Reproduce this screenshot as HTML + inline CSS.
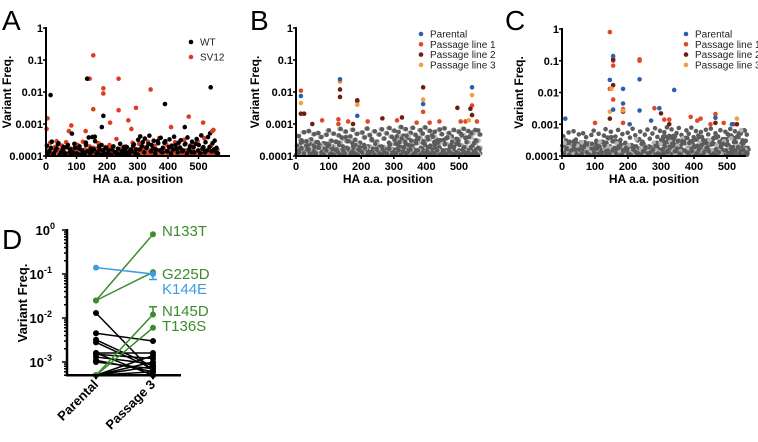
<!DOCTYPE html>
<html><head><meta charset="utf-8"><style>
body{margin:0;background:#fff;}
svg{display:block;font-family:"Liberation Sans",Arial,sans-serif;}
</style></head><body>
<svg id="fig" width="758" height="442" viewBox="0 0 758 442"></svg>
<script>
// ---------- data ----------
const yTicksLog = ["1","0.1","0.01","0.001","0.0001"];
const xTicksPos = [0,100,200,300,400,500];
const bgPos = [3,11,19,26,34,41,50,57,63,72,80,88,95,103,110,118,126,131,140,147,152,161,169,176,182,191,198,205,213,221,228,236,243,250,258,265,273,281,288,296,302,309,317,324,331,339,346,353,361,368,376,383,391,398,405,412,420,427,435,442,450,457,464,472,479,486,494,501,509,516,523,531,538,546,553,559];
// background frequencies in units of 1e-4
const bgV1 = [2.1,1.4,2.8,1.2,1.7,2.5,1.3,1.9,1.1,2.2,1.6,1.3,1.8,1.2,2.0,1.5,1.1,2.6,3.8,1.7,1.4,2.9,1.3,1.6,2.2,1.2,1.8,1.5,1.1,2.0,1.3,1.7,2.4,1.2,1.5,1.9,1.1,1.4,2.3,1.6,3.2,4.1,2.7,3.5,1.9,4.3,2.2,3.0,1.6,2.5,3.7,1.8,2.9,1.4,3.3,2.1,4.0,1.7,2.6,3.1,1.5,2.4,3.8,2.0,2.8,1.3,3.4,2.2,4.4,1.9,2.7,3.9,5.1,2.5,3.0,1.8];
const bgV2 = [1.2,1.8,1.1,1.5,2.3,1.1,1.6,1.2,1.9,1.3,1.1,2.4,1.2,1.7,1.1,1.3,2.2,1.4,1.2,3.9,1.6,1.2,2.0,1.1,1.5,1.8,1.2,1.1,1.6,1.3,1.2,1.1,1.4,1.9,1.2,1.3,1.6,2.1,1.2,1.1,1.6,2.0,1.3,1.8,2.4,1.4,1.7,1.2,2.9,1.5,1.3,2.6,1.4,1.9,1.2,1.6,2.2,1.3,1.8,1.4,2.3,1.2,1.6,1.3,1.9,2.4,1.5,1.2,1.7,1.3,1.5,1.9,1.4,1.6,1.3,1.2];
const bgV3 = [1.5,2.6,1.2,1.9,1.3,1.1,2.1,1.4,2.7,1.2,1.7,1.3,2.3,1.1,1.6,2.8,1.3,1.5,2.0,1.2,1.8,1.1,2.5,1.3,1.4,1.9,1.1,2.2,1.5,1.2,3.4,1.3,1.7,1.1,2.0,1.4,1.2,2.6,1.5,1.3,2.4,1.6,1.9,1.2,2.8,1.5,1.1,2.1,1.4,3.6,1.2,1.7,2.3,1.3,1.6,1.2,2.7,1.4,1.9,1.2,3.2,1.5,1.3,2.2,1.6,1.2,2.9,1.4,1.7,3.6,1.3,1.5,2.1,6.5,1.4,1.6];
const bgV4 = [1.1,1.3,1.7,1.2,2.9,1.6,1.1,1.4,1.2,1.8,1.3,1.1,1.5,2.2,1.2,1.1,1.6,1.3,1.1,1.5,1.2,1.7,1.1,1.4,1.2,1.1,1.5,1.3,1.8,1.1,1.2,1.4,1.1,1.6,1.2,1.1,1.3,1.2,1.7,1.1,1.3,1.2,1.5,1.1,1.4,1.2,1.3,1.6,1.1,1.2,1.5,1.1,1.3,1.2,1.4,1.1,1.3,1.2,1.5,1.1,1.2,1.3,1.1,1.4,1.2,1.1,1.3,1.2,1.1,1.4,1.2,1.3,1.1,1.2,1.3,1.1];
const bgV5 = [4.2,3.1,5.5,2.4,6.0,3.3,4.8,2.7,5.2,3.9,2.5,4.6,6.3,3.0,5.0,2.8,4.4,7.0,3.6,5.8,2.9,4.1,6.6,3.2,4.9,2.6,5.4,3.8,7.2,4.5,3.1,5.9,2.8,4.7,6.8,3.5,5.1,7.5,4.0,6.2,3.3,5.6,8.0,4.3,6.9,3.7,5.3,7.6,4.6,3.0,6.4,5.0,7.8,3.9,6.1,4.4,5.7,3.2,6.7,4.8,7.3,3.6,5.2,4.1,6.5,3.4,5.8,4.9,7.1,3.8,6.0,4.2,5.5,3.1,6.3,4.7];

// Panel A highlighted variants
const aWTPos = [15,135,188,183,85,390,455,540,160];
const aWTFreq = [0.008,0.026,0.0018,0.0008,0.0005,0.0042,0.0008,0.014,0.0004];
const aSVPos = [155,143,238,188,188,155,238,343,295,270,210,130,83,75,5,2,468,515,410,280,545];
const aSVFreq = [0.14,0.026,0.026,0.013,0.009,0.0029,0.0027,0.012,0.0032,0.0013,0.0011,0.0006,0.0009,0.0006,0.0015,0.0007,0.0017,0.0011,0.0008,0.0007,0.0006];

// Panel B
const bParPos = [15,135,188,390,540];
const bParFreq = [0.0075,0.025,0.0018,0.0042,0.014];
const bP1Pos = [15,135,188,390,540,130,130,80,160,220,310,370,410,440,520,555,505];
const bP1Freq = [0.011,0.022,0.005,0.0024,0.0038,0.0014,0.001,0.0013,0.0012,0.0012,0.0013,0.0011,0.0011,0.0012,0.0012,0.0012,0.0012];
const bP2Pos = [15,25,135,135,188,390,265,325,495,540,535,175,50];
const bP2Freq = [0.0021,0.0021,0.012,0.007,0.0055,0.014,0.0015,0.0016,0.0032,0.0019,0.003,0.001,0.001];
const bP3Pos = [15,135,188,390,540,530];
const bP3Freq = [0.0045,0.021,0.004,0.0058,0.008,0.0013];

// Panel C
const cParPos = [145,155,185,185,235,235,155,340,295,270,205,465,515,10];
const cParFreq = [0.025,0.14,0.013,0.0045,0.026,0.0027,0.0029,0.012,0.0032,0.0013,0.001,0.0016,0.001,0.0015];
const cP1Pos = [145,155,155,155,145,235,235,185,185,280,310,325,390,410,420,465,450,490,100,520];
const cP1Freq = [0.8,0.1,0.07,0.006,0.013,0.11,0.1,0.003,0.0011,0.0032,0.0014,0.0014,0.0017,0.0013,0.0015,0.0021,0.001,0.0011,0.0011,0.001];
const cP2Pos = [155,155,145,185,300,325,465,530];
const cP2Freq = [0.11,0.017,0.0015,0.0025,0.0022,0.001,0.0011,0.001];
const cP3Pos = [150,145,530,185];
const cP3Freq = [0.013,0.0025,0.0015,0.0027];

// Panel D
const dCategories = ["Parental","Passage 3"];
const dBlackParental = [0.013,0.0045,0.0032,0.0028,0.0016,0.0015,0.0013,0.0011,0.001,0.0016,0.0005,0.0005,0.0005,0.0005];
const dBlackPassage = [0.0006,0.003,0.0008,0.0007,0.0016,0.0012,0.0009,0.0006,0.0007,0.0005,0.0014,0.001,0.0008,0.0006];
const dGreenLabels = ["N133T","G225D","N145D","T136S"];
const dGreenParental = [0.025,0.025,0.0005,0.0005];
const dGreenPassage = [0.8,0.11,0.012,0.006];
const dBlueLabels = ["K144E"];
const dBlueParental = [0.14];
const dBluePassage = [0.1];

// ---------- drawing ----------
const NS="http://www.w3.org/2000/svg";
const svg=document.getElementById('fig');
function el(tag,attrs,parent){const e=document.createElementNS(NS,tag);for(const k in attrs)e.setAttribute(k,attrs[k]);(parent||svg).appendChild(e);return e;}
function txt(s,attrs,parent){const t=el('text',attrs,parent);t.textContent=s;return t;}

function scatterPanel(p){
  const g=el('g',{});
  
  
  const xs=v=>p.x0+v*p.xScale;
  const ys=f=>p.yBottom-(Math.log10(f)+4)*(p.yBottom-p.yTop)/4;
  const letter=txt(p.letter,{x:p.lx,y:30,'font-size':28},g);
  
  
  p.series.forEach(s=>{
    const sg=el('g',{fill:s.color},g);
    
    
    s.pos.forEach((x,i)=>{
      const f=s.unit?s.freq[i]*s.unit:s.freq[i];
      const c=el('circle',{cx:xs(x+(s.dx||0)),cy:ys(f),r:2.3},sg);
      
      
    });
  });
  const ax=el('g',{stroke:'#000','stroke-width':2},g);
  
  
  el('line',{x1:p.x0,y1:p.yTop-1,x2:p.x0,y2:p.yBottom+1},ax);
  el('line',{x1:p.x0-1,y1:p.yBottom,x2:p.xEnd,y2:p.yBottom},ax);
  const yt=el('g',{'font-size':11,'font-weight':'bold','text-anchor':'end'},g);
  
  
  yTicksLog.forEach((l,i)=>{
    const y=ys(Number(l));
    el('line',{x1:p.x0-3,y1:y,x2:p.x0,y2:y,stroke:'#000','stroke-width':1.5},g);
    txt(l,{x:p.x0-3,y:y+4},yt);
  });
  const xt=el('g',{'font-size':11,'font-weight':'bold','text-anchor':'middle'},g);
  
  
  xTicksPos.forEach(v=>{
    el('line',{x1:xs(v),y1:p.yBottom,x2:xs(v),y2:p.yBottom+3,stroke:'#000','stroke-width':1.5},g);
    txt(String(v),{x:xs(v),y:p.yBottom+14},xt);
  });
  const yl=txt('Variant Freq.',{x:0,y:0,'font-size':12,'font-weight':'bold','text-anchor':'middle',transform:`translate(${p.ytx},${(p.yTop+p.yBottom)/2}) rotate(-90)`},g);
  
  
  const xl=txt('HA a.a. position',{x:(p.x0+p.xEnd)/2,y:p.yBottom+27,'font-size':12,'font-weight':'bold','text-anchor':'middle'},g);
  
  
  const lg=el('g',{'font-size':10},g);
  
  
  p.legend.forEach((e,i)=>{
    const y=p.legY+i*p.legStep;
    const le=el('g',{},lg);
    
    
    el('circle',{cx:p.legX,cy:y,r:2.3,fill:e.color},le);
    txt(e.label,{x:p.legX+9,y:y+3.5,fill:'#222'},le);
  });
}

const BLUE='#2b5fb0',P1='#e0472b',P2='#6e1d12',P3='#f0a040',DG='#5c5c5c',LG='#b4b4b4';

scatterPanel({name:'panel-a',letter:'A',lx:2,x0:46,xScale:0.305,xEnd:230,yTop:28,yBottom:156,ytx:11,
  legX:191,legY:42,legStep:15,
  legend:[{label:'WT',color:'#000'},{label:'SV12',color:'#e03a20'}],
  series:[
    {name:'sv12-background',pos:bgPos,freq:bgV3,unit:1e-4,color:'#e03a20',dx:3},
    {name:'sv12-background-2',pos:bgPos,freq:bgV4,unit:1e-4,color:'#e03a20',dx:1},
    {name:'wt-background',pos:bgPos,freq:bgV1,unit:1e-4,color:'#000'},
    {name:'wt-background-2',pos:bgPos,freq:bgV2,unit:1e-4,color:'#000',dx:5},
    {name:'sv12-series',pos:aSVPos,freq:aSVFreq,color:'#e03a20'},
    {name:'wt-series',pos:aWTPos,freq:aWTFreq,color:'#000'}
  ]});

scatterPanel({name:'panel-b',letter:'B',lx:250,x0:296,xScale:0.326,xEnd:480,yTop:28,yBottom:156,ytx:259,
  legX:421,legY:34,legStep:10.3,
  legend:[{label:'Parental',color:BLUE},{label:'Passage line 1',color:P1},{label:'Passage line 2',color:P2},{label:'Passage line 3',color:P3}],
  series:[
    {name:'light-background',pos:bgPos,freq:bgV5,unit:1e-4,color:LG,dx:2},
    {name:'dark-background-0',pos:bgPos,freq:bgV5,unit:1e-4,color:DG,dx:6},
    {name:'light-background-3',pos:bgPos,freq:bgV1,unit:1e-4,color:LG,dx:7},
    {name:'dark-background',pos:bgPos,freq:bgV1,unit:1e-4,color:DG},
    {name:'dark-background-2',pos:bgPos,freq:bgV3,unit:1e-4,color:DG,dx:4},
    {name:'dark-background-3',pos:bgPos,freq:bgV2,unit:1e-4,color:DG,dx:6},
    {name:'light-background-2',pos:bgPos,freq:bgV4,unit:1e-4,color:LG,dx:3},
    {name:'dark-background-4',pos:bgPos,freq:bgV4,unit:1e-4,color:DG,dx:-2},
    {name:'passage-line-1',pos:bP1Pos,freq:bP1Freq,color:P1},
    {name:'passage-line-2',pos:bP2Pos,freq:bP2Freq,color:P2},
    {name:'passage-line-3',pos:bP3Pos,freq:bP3Freq,color:P3},
    {name:'parental',pos:bParPos,freq:bParFreq,color:BLUE}
  ]});

scatterPanel({name:'panel-c',letter:'C',lx:505,x0:562,xScale:0.33,xEnd:746,yTop:29,yBottom:156,ytx:523,
  legX:686,legY:34,legStep:10.3,
  legend:[{label:'Parental',color:BLUE},{label:'Passage line 1',color:P1},{label:'Passage line 2',color:P2},{label:'Passage line 3',color:P3}],
  series:[
    {name:'dark-background',pos:bgPos,freq:bgV5,unit:1e-4,color:DG,dx:1},
    {name:'dark-background-2',pos:bgPos,freq:bgV1,unit:1e-4,color:DG,dx:4},
    {name:'light-background',pos:bgPos,freq:bgV2,unit:1e-4,color:LG},
    {name:'dark-background-3',pos:bgPos,freq:bgV3,unit:1e-4,color:DG,dx:6},
    {name:'dark-background-4',pos:bgPos,freq:bgV4,unit:1e-4,color:DG,dx:2},
    {name:'dark-background-5',pos:bgPos,freq:bgV1,unit:1e-4,color:DG,dx:-2},
    {name:'light-background-2',pos:bgPos,freq:bgV3,unit:1e-4,color:LG,dx:-3},
    {name:'dark-background-6',pos:bgPos,freq:bgV2,unit:1e-4,color:DG,dx:3},
    {name:'passage-line-1',pos:cP1Pos,freq:cP1Freq,color:P1},
    {name:'passage-line-2',pos:cP2Pos,freq:cP2Freq,color:P2},
    {name:'passage-line-3',pos:cP3Pos,freq:cP3Freq,color:P3},
    {name:'parental',pos:cParPos,freq:cParFreq,color:BLUE}
  ]});

// ---------- Panel D ----------
(function(){
  const g=el('g',{});
  
  
  const X0=67,XEND=181,YTOP=230,DEC=44,YB=362+Math.log10(2)*44;
  const ys=f=>YTOP-Math.log10(f)*DEC;
  const xc=[96,153];
  const L=txt('D',{x:2,y:249,'font-size':28},g);
  
  
  function pair(a,b,color,name,lw){
    const sg=el('g',{stroke:color,fill:color},g);
    
    
    a.forEach((v,i)=>{
      el('line',{x1:xc[0],y1:ys(a[i]),x2:xc[1],y2:ys(b[i]),'stroke-width':lw},sg);
      el('circle',{cx:xc[0],cy:ys(a[i]),r:3,stroke:'none'},sg);
      el('circle',{cx:xc[1],cy:ys(b[i]),r:3,stroke:'none'},sg);
    });
  }
  pair(dBlackParental,dBlackPassage,'#000','black-lines',1.5);
  pair(dGreenParental,dGreenPassage,'#3c8c2c','green-lines',1.5);
  pair(dBlueParental,dBluePassage,'#3a9ee0','blue-lines',1.5);
  el('line',{x1:153,y1:ys(0.018),x2:153,y2:ys(0.012),stroke:'#3c8c2c','stroke-width':1.5},g);
  el('line',{x1:149,y1:ys(0.018),x2:157,y2:ys(0.018),stroke:'#3c8c2c','stroke-width':1.5},g);
  el('line',{x1:153,y1:ys(0.1),x2:153,y2:ys(0.075),stroke:'#3a9ee0','stroke-width':1.5},g);
  el('line',{x1:149,y1:ys(0.075),x2:157,y2:ys(0.075),stroke:'#3a9ee0','stroke-width':1.5},g);
  const lab=el('g',{'font-size':15},g);
  
  
  const gy=[236,279,316,331];
  dGreenLabels.forEach((s,i)=>{const t=txt(s,{x:162,y:gy[i],fill:'#3c8c2c'},lab);});
  dBlueLabels.forEach(s=>{const t=txt(s,{x:162,y:294,fill:'#3a9ee0'},lab);});
  const ax=el('g',{stroke:'#000','stroke-width':2.5},g);
  
  
  el('line',{x1:X0,y1:YTOP-1,x2:X0,y2:YB},ax);
  el('line',{x1:X0-1,y1:YB,x2:XEND,y2:YB},ax);
  for(let d=0;d<4;d++){
    for(let m=1;m<10;m++){
      const f=Math.pow(10,-d-1)*m; const y=ys(f);
      if(y>YB||y<YTOP-0.5)continue;
      el('line',{x1:X0-(m===1?5:3),y1:y,x2:X0,y2:y,stroke:'#000','stroke-width':1.5},g);
    }
  }
  el('line',{x1:X0-5,y1:YTOP,x2:X0,y2:YTOP,stroke:'#000','stroke-width':1.5},g);
  const yt=el('g',{'font-size':13,'font-weight':'bold','text-anchor':'end'},g);
  
  
  [0,-1,-2,-3].forEach(e=>{
    const t=el('text',{x:X0-6-(e===0?6:9),y:ys(Math.pow(10,e))+5,'text-anchor':'end'},yt);
    t.appendChild(document.createTextNode('10'));
    const sp=el('tspan',{'font-size':9,dy:-6},t);sp.textContent=String(e);
  });
  const yl=txt('Variant Freq.',{x:0,y:0,'font-size':13,'font-weight':'bold','text-anchor':'middle',transform:'translate(27,303) rotate(-90)'},g);
  
  
  dCategories.forEach((c,i)=>{
    el('line',{x1:xc[i],y1:YB,x2:xc[i],y2:YB+4,stroke:'#000','stroke-width':2},g);
    const t=txt(c,{x:0,y:0,'font-size':13,'font-weight':'bold','text-anchor':'end',transform:`translate(${xc[i]+3},${YB+10}) rotate(-45)`},g);
    
    
  });
})();
</script>
</body></html>
